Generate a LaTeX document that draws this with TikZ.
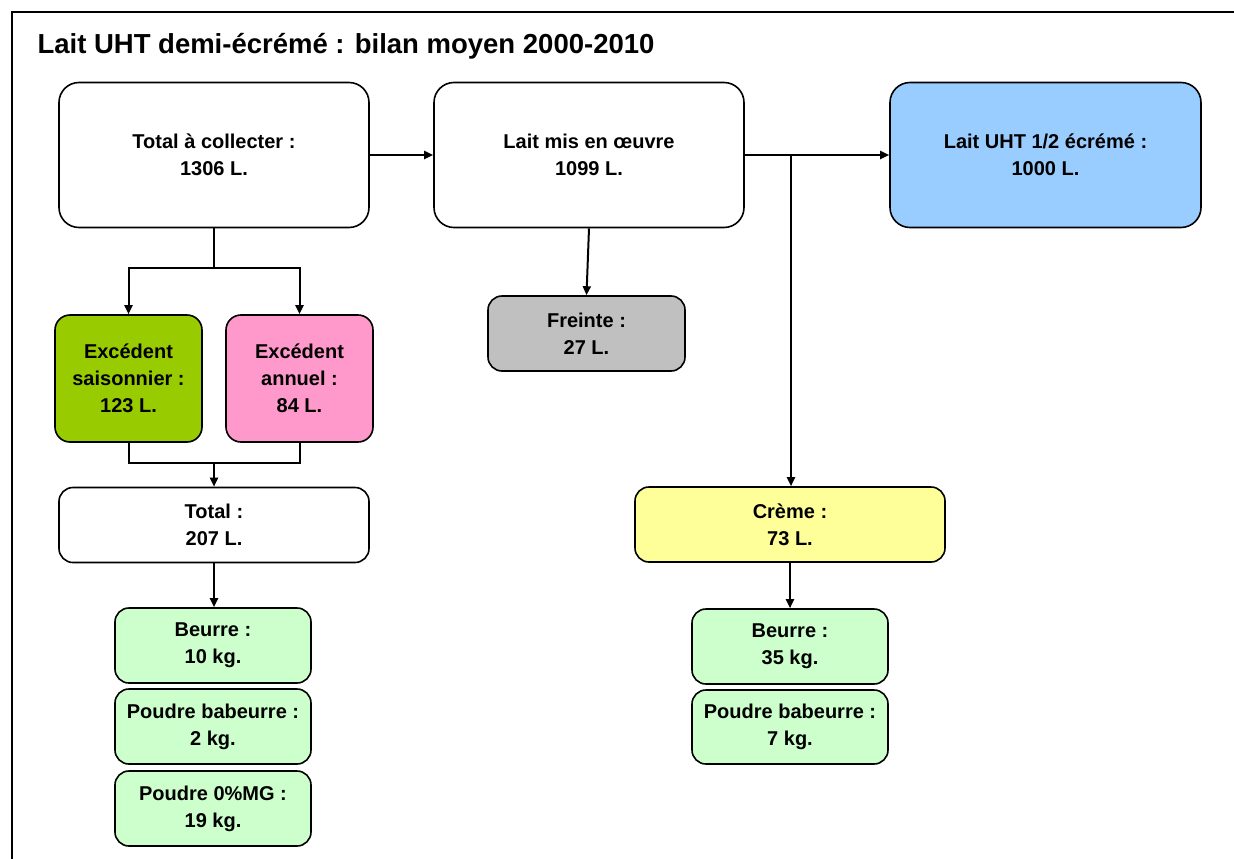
\documentclass[tikz,border=0pt]{standalone}
\usepackage{fontspec}
\setmainfont{Liberation Sans}
\usetikzlibrary{arrows.meta}
\definecolor{grass}{HTML}{99CC00}
\definecolor{rose}{HTML}{FF99CC}
\definecolor{greybox}{HTML}{C0C0C0}
\definecolor{sky}{HTML}{99CCFF}
\definecolor{cream}{HTML}{FFFF99}
\definecolor{mint}{HTML}{CCFFCC}
\tikzset{
  box/.style={draw=black, line width=1.6pt, align=center, inner sep=0pt,
    font=\fontsize{20}{27}\selectfont\bfseries},
  bigbox/.style={box, rounded corners=20pt, minimum width=310pt, minimum height=145pt},
  midbox/.style={box, rounded corners=15pt, minimum width=147pt, minimum height=127pt},
  widebox/.style={box, rounded corners=14pt, minimum width=310pt, minimum height=75pt},
  smallbox/.style={box, rounded corners=14pt, minimum width=196pt, minimum height=75pt},
  link/.style={line width=2pt},
  flow/.style={link, -{Triangle[length=9pt,width=8pt]}},
}
\begin{document}
\begin{tikzpicture}[x=1pt,y=-1pt]
\useasboundingbox (0,0) rectangle (1234,859);
% outer frame (open to the right and bottom)
\draw[line width=2pt] (12,859) -- (12,12) -- (1234,12);
\node[anchor=base west, font=\fontsize{27.5}{30}\selectfont\bfseries] (title) at (34,53.5)
  {Lait UHT demi-écrémé : bilan moyen 2000-2010};

% main line
\node[bigbox, fill=white] (tac) at (214,155) {Total à collecter :\\1306 L.};
\node[bigbox, fill=white] (lmo) at (589,155) {Lait mis en œuvre\\1099 L.};
\node[bigbox, fill=sky, minimum width=311pt] (uht) at (1045.5,155) {Lait UHT 1/2 écrémé :\\1000 L.};
\node[smallbox, fill=greybox, minimum width=197pt] (frt) at (586.5,333.5) {Freinte :\\27 L.};

% surplus branch
\node[midbox, fill=grass] (exs) at (128.5,378.5) {Excédent\\saisonnier :\\123 L.};
\node[midbox, fill=rose] (exa) at (299.5,378.5) {Excédent\\annuel :\\84 L.};
\node[widebox, fill=white] (tot) at (214,525) {Total :\\207 L.};
\node[smallbox, fill=mint] (b1) at (213,645.5) {Beurre :\\10 kg.};
\node[smallbox, fill=mint] (pb1) at (213,726.5) {Poudre babeurre :\\2 kg.};
\node[smallbox, fill=mint] (p0) at (213,808.5) {Poudre 0\%MG :\\19 kg.};

% cream branch
\node[widebox, fill=cream] (cre) at (790,524.5) {Crème :\\73 L.};
\node[smallbox, fill=mint] (b2) at (790,646.5) {Beurre :\\35 kg.};
\node[smallbox, fill=mint, minimum height=74pt] (pb2) at (790,727) {Poudre babeurre :\\7 kg.};

% connectors
\draw[flow] (tac.east) -- (lmo.west);
\draw[flow] (lmo.east) -- (uht.west);
\coordinate (br) at (791,155);
\draw[flow] (br) -- (br |- cre.north);
\draw[flow] (lmo.south) -- (frt.north);

\coordinate (split) at (214,268);
\draw[link] (tac.south) -- (split);
\draw[flow] (split) -| (exs.north);
\draw[flow] (split) -| (exa.north);

\coordinate (join) at (214,463);
\draw[link] (exs.south) |- (join);
\draw[link] (exa.south) |- (join);
\draw[flow] (join) -- (tot.north);

\draw[flow] (tot.south) -- (tot.south |- b1.north);
\draw[flow] (cre.south) -- (b2.north);
\end{tikzpicture}
\end{document}
